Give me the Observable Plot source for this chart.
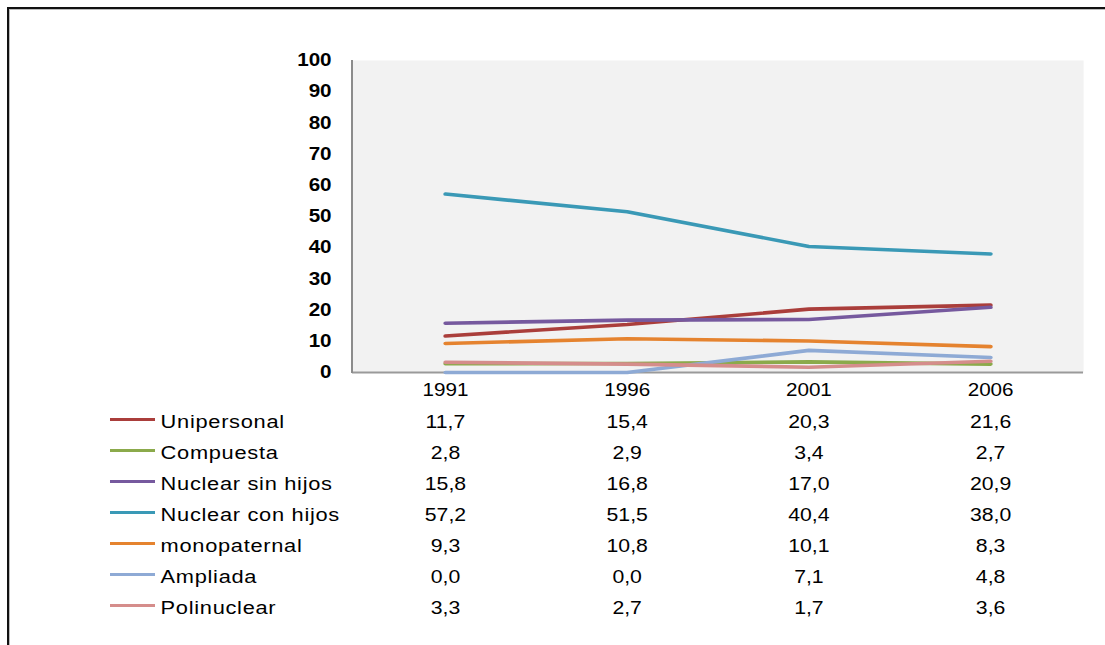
<!DOCTYPE html>
<html>
<head>
<meta charset="utf-8">
<script src="https://cdn.jsdelivr.net/npm/d3@7"></script>
<script src="https://cdn.jsdelivr.net/npm/@observablehq/plot@0.6"></script>
<style>
  html, body { margin: 0; padding: 0; background: #fff; }
  body { width: 1105px; height: 645px; position: relative; overflow: hidden; font-family: "Liberation Sans", Arial, sans-serif; }
  #border { position: absolute; left: 7px; top: 7px; width: 1200px; height: 700px;
            border-left: 2px solid #111; border-top: 2px solid #111;
            box-shadow: inset 1px 1px 0 #bbb; }
  #chart { position: absolute; left: 0; top: 0; }
  #table { position: absolute; left: 0; top: 395px; }
  svg { overflow: visible; }
  .legend-label text { letter-spacing: 0.6px; }
</style>
</head>
<body>
<div id="border"></div>
<div id="chart"></div>
<div id="table"></div>
<script>
// ---- data ----
const years = ["1991", "1996", "2001", "2006"];
const seriesNames = ["Unipersonal", "Compuesta", "Nuclear sin hijos", "Nuclear con hijos", "monopaternal", "Ampliada", "Polinuclear"];
const unipersonal     = [11.7, 15.4, 20.3, 21.6];
const compuesta       = [2.8, 2.9, 3.4, 2.7];
const nuclearSinHijos = [15.8, 16.8, 17.0, 20.9];
const nuclearConHijos = [57.2, 51.5, 40.4, 38.0];
const monopaternal    = [9.3, 10.8, 10.1, 8.3];
const ampliada        = [0.0, 0.0, 7.1, 4.8];
const polinuclear     = [3.3, 2.7, 1.7, 3.6];
const yTicks = [0, 10, 20, 30, 40, 50, 60, 70, 80, 90, 100];
const colors = ["#AA3E3B", "#8BAA4B", "#76599E", "#3A99B6", "#E5832F", "#8EAAD5", "#D58D8B"];

const seriesValues = [unipersonal, compuesta, nuclearSinHijos, nuclearConHijos, monopaternal, ampliada, polinuclear];
const rows = seriesNames.flatMap((name, i) => years.map((year, j) => ({series: name, year, value: seriesValues[i][j]})));
const fmt = v => v.toFixed(1).replace(".", ",");

// horizontal stretch of the original rendering
const S = 1.18;
const FULL_W = 1105;
const W = FULL_W / S;
const ML = 352 / S, MR = 22 / S;

function stretch(svg) {
  svg.setAttribute("width", FULL_W);
  svg.setAttribute("preserveAspectRatio", "none");
  return svg;
}

const colorScale = {domain: seriesNames, range: colors};

// ---- chart ----
const chart = Plot.plot({
  width: W,
  height: 395,
  marginTop: 60,
  marginBottom: 23,
  marginLeft: ML,
  marginRight: MR,
  style: {fontFamily: "Liberation Sans, Arial, sans-serif", background: "transparent", color: "#000"},
  x: {type: "point", domain: years, padding: 0.5, label: null},
  y: {domain: [0, 100], label: null},
  color: colorScale,
  marks: [
    Plot.frame({fill: "#f2f2f2", stroke: null}),
    Plot.axisY({ticks: yTicks, tickSize: 0, tickPadding: 21 / S, fontSize: 17.5, fontWeight: "bold", label: null, tickFormat: d => d}),
    Plot.axisX({tickSize: 0, tickPadding: 11, fontSize: 17.5, label: null}),
    Plot.ruleY([0], {stroke: "#9a9a9a", strokeWidth: 2}),
    (index, scales, values, dims) => {
      const g = d3.create("svg:g");
      g.append("line")
        .attr("x1", dims.marginLeft).attr("x2", dims.marginLeft)
        .attr("y1", dims.marginTop).attr("y2", dims.height - dims.marginBottom + 1)
        .attr("stroke", "#8c8c8c").attr("stroke-width", 2 / S);
      return g.node();
    },
    Plot.line(rows, {x: "year", y: "value", z: "series", stroke: "series", strokeWidth: 3.6, strokeLinecap: "round", strokeLinejoin: "round"})
  ]
});
document.getElementById("chart").appendChild(stretch(chart));

// ---- data table ----
const table = Plot.plot({
  width: W,
  height: 250,
  marginTop: 10.5,
  marginBottom: 22.5,
  marginLeft: ML,
  marginRight: MR,
  style: {fontFamily: "Liberation Sans, Arial, sans-serif", background: "transparent", color: "#000"},
  x: {type: "point", domain: years, padding: 0.5, axis: null},
  y: {type: "band", domain: seriesNames, padding: 0, axis: null},
  color: colorScale,
  marks: [
    Plot.text(rows, {x: "year", y: "series", text: d => fmt(d.value), fontSize: 18, fill: "#000"}),
    Plot.text(seriesNames, {y: d => d, text: d => d, frameAnchor: "left", dx: (160 - 352) / S, textAnchor: "start", fontSize: 18.5, fill: "#000", className: "legend-label"}),
    (index, scales, values, dims) => {
      const g = d3.create("svg:g");
      const bw = scales.y.bandwidth ? scales.y.bandwidth() : 31;
      seriesNames.forEach((name, i) => {
        const yy = scales.y(name) + bw / 2 - 2;
        g.append("line")
          .attr("x1", 110 / S).attr("x2", 155 / S)
          .attr("y1", yy).attr("y2", yy)
          .attr("stroke", scales.color ? scales.color(name) : colors[i])
          .attr("stroke-width", 3);
      });
      return g.node();
    }
  ]
});
document.getElementById("table").appendChild(stretch(table));
</script>
</body>
</html>
